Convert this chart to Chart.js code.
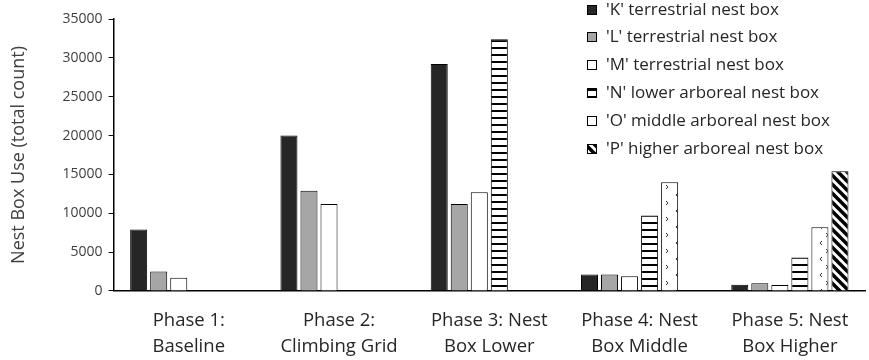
<!DOCTYPE html>
<html>
<head>
<meta charset="utf-8">
<script src="https://cdn.jsdelivr.net/npm/chart.js@4"></script>
<style>
  html, body { margin: 0; padding: 0; background: #fff; }
  #wrap { width: 869px; height: 360px; }
</style>
</head>
<body>
<div id="wrap"><canvas id="chart"></canvas></div>
<script>
// categories and series
const phases = [
  ["Phase 1:", "Baseline"],
  ["Phase 2:", "Climbing Grid"],
  ["Phase 3: Nest", "Box Lower"],
  ["Phase 4: Nest", "Box Middle"],
  ["Phase 5: Nest", "Box Higher"]
];
const seriesNames = [
  "'K' terrestrial nest box",
  "'L' terrestrial nest box",
  "'M' terrestrial nest box",
  "'N' lower arboreal nest box",
  "'O' middle arboreal nest box",
  "'P' higher arboreal nest box"
];
const boxK = [7900, 20000, 29200, 2100, 800];
const boxL = [2500, 12900, 11200, 2100, 1000];
const boxM = [1700, 11200, 12700, 1900, 750];
const boxN = [null, null, 32400, 9700, 4300];
const boxO = [null, null, null, 14000, 8200];
const boxP = [null, null, null, null, 15400];
const yTicks = [0, 5000, 10000, 15000, 20000, 25000, 30000, 35000];

const FONT = "'Open Sans', sans-serif";

// small canvas patterns for the arboreal boxes
function makePattern(w, h, draw) {
  const c = document.createElement('canvas');
  c.width = w; c.height = h;
  const g = c.getContext('2d');
  g.fillStyle = '#fff';
  g.fillRect(0, 0, w, h);
  draw(g);
  return document.getElementById('chart').getContext('2d').createPattern(c, 'repeat');
}

const stripesH = makePattern(8, 7, g => {
  g.fillStyle = '#000';
  g.fillRect(0, 5, 8, 2);
});

const chevrons = makePattern(16, 16, g => {
  g.strokeStyle = '#333';
  g.lineWidth = 1;
  g.beginPath();
  g.moveTo(6, 1); g.lineTo(4, 3); g.lineTo(6, 5);
  g.moveTo(10, 9); g.lineTo(12, 11); g.lineTo(10, 13);
  g.stroke();
});

const diag = makePattern(9, 9, g => {
  g.strokeStyle = '#000';
  g.lineWidth = 3.5;
  g.beginPath();
  g.moveTo(-2, -2); g.lineTo(11, 11);
  g.moveTo(-2, 7); g.lineTo(2, 11);
  g.moveTo(7, -2); g.lineTo(11, 2);
  g.stroke();
});

const fills = ['#262626', '#a6a6a6', '#ffffff', stripesH, chevrons, diag];
const values = [boxK, boxL, boxM, boxN, boxO, boxP];

// legend drawn inside the plot, top right, like the original
const floatLegend = {
  id: 'floatLegend',
  afterDraw(chart, args, opts) {
    const ctx = chart.ctx;
    ctx.save();
    ctx.font = opts.font;
    ctx.textBaseline = 'middle';
    chart.data.datasets.forEach((ds, i) => {
      const y = Math.round(opts.y + i * opts.rowGap);
      ctx.fillStyle = ds.backgroundColor;
      ctx.fillRect(opts.x, y - opts.box / 2, opts.box, opts.box);
      ctx.strokeStyle = '#000';
      ctx.lineWidth = 1;
      ctx.strokeRect(opts.x + 0.5, y - opts.box / 2 + 0.5, opts.box - 1, opts.box - 1);
      ctx.fillStyle = '#262626';
      ctx.fillText(ds.label, opts.x + opts.box + 9, y);
    });
    ctx.restore();
  }
};

new Chart(document.getElementById('chart'), {
  type: 'bar',
  data: {
    labels: phases,
    datasets: values.map((v, i) => ({
      label: seriesNames[i],
      data: v,
      backgroundColor: fills[i],
      borderColor: '#000',
      borderWidth: 1
    }))
  },
  options: {
    responsive: true,
    maintainAspectRatio: false,
    animation: false,
    layout: { padding: { top: 19, right: 4, left: 8, bottom: -16 } },
    datasets: { bar: { categoryPercentage: 0.8, barPercentage: 0.85 } },
    plugins: {
      legend: { display: false },
      tooltip: { enabled: false },
      floatLegend: { x: 587, y: 9.5, rowGap: 27.8, box: 10, font: "17px " + FONT }
    },
    scales: {
      x: {
        grid: { drawOnChartArea: false, drawTicks: false },
        border: { color: '#000', width: 1.5 },
        ticks: {
          color: '#262626',
          padding: 17,
          maxRotation: 0,
          font: { family: FONT, size: 18.5, lineHeight: 1.38 }
        }
      },
      y: {
        min: 0,
        max: 35000,
        afterBuildTicks: axis => { axis.ticks = yTicks.map(v => ({ value: v })); },
        grid: { drawOnChartArea: false, drawTicks: true, tickLength: 5, color: '#000' },
        border: { color: '#000', width: 1.5 },
        ticks: {
          color: '#404040',
          padding: 6,
          callback: v => String(v),
          font: { family: FONT, size: 14 }
        },
        title: {
          display: true,
          text: 'Nest Box Use (total count)',
          color: '#404040',
          padding: { top: 0, bottom: 27 },
          font: { family: FONT, size: 18 }
        }
      }
    }
  },
  plugins: [floatLegend]
});
</script>
</body>
</html>
